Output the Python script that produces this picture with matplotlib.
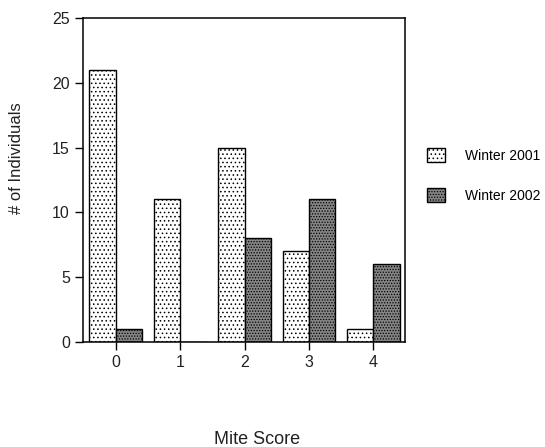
import matplotlib
matplotlib.use("Agg")
import matplotlib.pyplot as plt
import numpy as np

plt.rcParams['font.family'] = ['Liberation Sans', 'DejaVu Sans']
plt.rcParams['hatch.linewidth'] = 0.6

# data
scores = [0, 1, 2, 3, 4]
winter_2001 = [21, 11, 15, 7, 1]
winter_2002 = [1, 0, 8, 11, 6]
yticks = [0, 5, 10, 15, 20, 25]

fig = plt.figure(figsize=(5.45, 4.47), dpi=100)
ax = fig.add_axes([0.1523, 0.2349, 0.5917, 0.7248])

x = np.arange(len(scores))
w = 0.41
ax.bar(x, winter_2001, width=-w, align='edge', facecolor='white',
       edgecolor='black', linewidth=1.0, hatch='....', label='Winter 2001')
ax.bar(x, winter_2002, width=w, align='edge', facecolor='#858585',
       edgecolor='black', linewidth=1.0, hatch='......', label='Winter 2002')

ax.set_xlim(-0.51, 4.5)
ax.set_ylim(0, 25)
ax.set_xticks(x)
ax.set_xticklabels([str(s) for s in scores])
ax.set_yticks(yticks)

for s in ax.spines.values():
    s.set_linewidth(1.1)
ax.tick_params(direction='out', length=6, width=1.0, labelsize=11.5,
               colors='black', pad=3.5)
ax.tick_params(axis='x', labelcolor='#222222')
ax.tick_params(axis='y', labelcolor='#222222')

ax.set_ylabel('# of Individuals', fontsize=12, color='#222222', va='center')
ax.yaxis.set_label_coords(-0.205, 0.568)
ax.set_xlabel('Mite Score', fontsize=13, color='#222222', va='center')
ax.xaxis.set_label_coords(0.54, -0.302)

leg = ax.legend(loc='center left', bbox_to_anchor=(1.05, 0.514), frameon=False,
                fontsize=10, handlelength=1.3, handleheight=1.2,
                handletextpad=1.4, labelspacing=1.8, borderaxespad=0)

fig.savefig('out.png', dpi=100)
